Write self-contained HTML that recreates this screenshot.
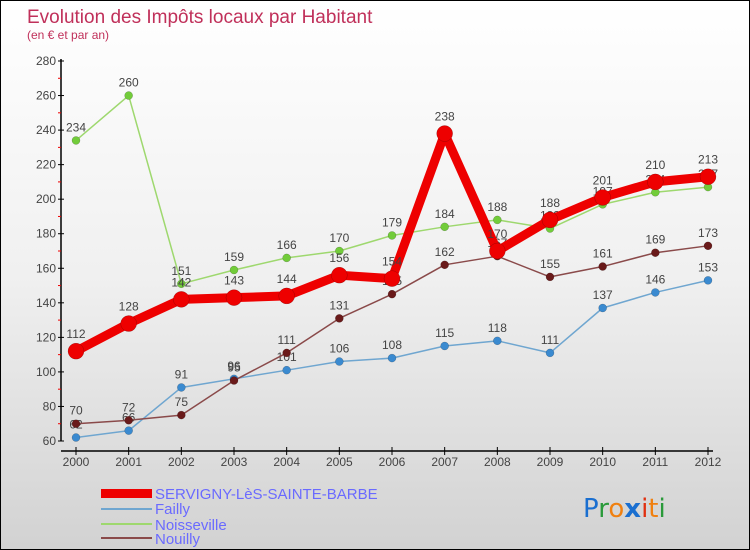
<!DOCTYPE html>
<html><head><meta charset="utf-8"><style>
body{margin:0}
#c{width:748px;height:548px;border:1px solid #000;background:linear-gradient(#fff,#f0f0f0 50%,#d2d2d2);position:relative;overflow:hidden;font-family:"Liberation Sans",sans-serif}
</style></head><body>
<div id="c">
<svg id="s" width="748" height="548" style="position:absolute;left:0;top:0">
<text x="26" y="22" font-size="19" fill="#c0305a">Evolution des Impôts locaux par Habitant</text>
<text x="26" y="38" font-size="12" fill="#c0305a">(en € et par an)</text>
<g id="axes"></g><g id="series"></g>
<g>
<rect x="100" y="488" width="51" height="9" fill="#e00"/>
<text x="154" y="498" font-size="15" fill="#6a6aff">SERVIGNY-LèS-SAINTE-BARBE</text>
<rect x="100" y="507" width="51" height="2" fill="#6fa6d0"/>
<text x="154" y="513" font-size="15" fill="#6a6aff">Failly</text>
<rect x="100" y="522" width="51" height="2" fill="#9ed86e"/>
<text x="154" y="529" font-size="15" fill="#6a6aff">Noisseville</text>
<rect x="100" y="536" width="51" height="2" fill="#8a4a4a"/>
<text x="154" y="543" font-size="15" fill="#6a6aff">Nouilly</text>
</g>
<g font-size="26" font-family="'DejaVu Sans',sans-serif">
<text x="582" y="516"><tspan fill="#1a6fd0">P</tspan><tspan fill="#2a9a3a">r</tspan><tspan fill="#f08010">o</tspan><tspan fill="#1a6fd0" font-weight="bold">x</tspan><tspan fill="#e03010">i</tspan><tspan fill="#f08010">t</tspan><tspan fill="#2a9a3a">i</tspan></text>
</g>
</svg>
</div>
<script>
const years=["2000","2001","2002","2003","2004","2005","2006","2007","2008","2009","2010","2011","2012"];
const yTicks=[60,80,100,120,140,160,180,200,220,240,260,280];
const servigny=[112,128,142,143,144,156,154,238,170,188,201,210,213];
const failly=[62,66,91,96,101,106,108,115,118,111,137,146,153];
const noisseville=[234,260,151,159,166,170,179,184,188,183,197,204,207];
const nouilly=[70,72,75,95,111,131,145,162,167,155,161,169,173];
const NS="http://www.w3.org/2000/svg";
const X=i=>75+i*(707-75)/(years.length-1);
const Y=v=>440-(v-60)*(380/220);
function mk(t,a,p){const e=document.createElementNS(NS,t);for(const k in a)e.setAttribute(k,a[k]);p.appendChild(e);return e;}
const ax=document.getElementById('axes');
let yl=mk('line',{x1:60,y1:58,x2:60,y2:440,stroke:'#000','stroke-width':1.5},ax);


let xl=mk('line',{x1:60,y1:450,x2:712,y2:450,stroke:'#000','stroke-width':1.5},ax);


yTicks.forEach(v=>{
 mk('line',{x1:57,y1:Y(v),x2:63,y2:Y(v),stroke:'#000'},ax);
 if(v<280)mk('line',{x1:57,y1:Y(v+10),x2:60,y2:Y(v+10),stroke:'#e00'},ax);
 const t=mk('text',{x:55,y:Y(v)+4,'font-size':12,fill:'#444','text-anchor':'end'},ax);
 t.textContent=v;
 
 
});
years.forEach((y,i)=>{
 mk('line',{x1:X(i),y1:446,x2:X(i),y2:454,stroke:'#000'},ax);
 const t=mk('text',{x:X(i),y:465,'font-size':12,fill:'#444','text-anchor':'middle'},ax);
 t.textContent=y;
 
 
});
const sg=document.getElementById('series');
function draw(name,data,color,dot,w,r){
 const g=mk('g',{},sg);
 
 
 const p=mk('polyline',{points:data.map((v,i)=>X(i)+','+Y(v)).join(' '),fill:'none',stroke:color,'stroke-width':w,'stroke-linejoin':'round'},g);
 
 
 data.forEach((v,i)=>{
  const c=mk('circle',{cx:X(i),cy:Y(v),r:r,fill:dot,stroke:'rgba(0,0,0,0.3)','stroke-width':0.5},g);
  
  
  const t=mk('text',{x:X(i),y:Y(v)-(r+5),'font-size':12,fill:'#444','text-anchor':'middle'},g);
  t.textContent=v;
  
  
 });
}
draw('failly',failly,'#6fa6d0','#3a8ad0',1.5,4);
draw('noisseville',noisseville,'#9ed86e','#72cc3a',1.5,4);
draw('nouilly',nouilly,'#8a4a4a','#6a1a1a',1.5,4);
draw('servigny',servigny,'#ee0000','#ee0000',9,8);
</script>
</body></html>
